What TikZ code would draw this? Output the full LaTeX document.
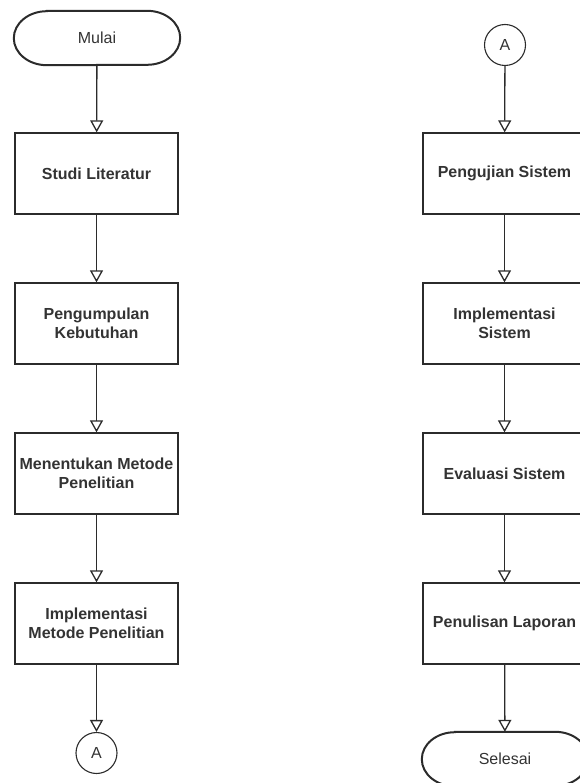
\documentclass[tikz,border=0pt]{standalone}
\usepackage{fontspec}
\setmainfont{Liberation Sans}
\usetikzlibrary{arrows.meta,positioning}
\definecolor{ink}{HTML}{2B2B2B}
\definecolor{txt}{HTML}{333333}
\tikzset{
  x=1pt, y=-1pt,
  stepbox/.style={draw=ink, line width=1.3pt, minimum width=163pt, minimum height=81pt,
    inner sep=1pt, align=center, text=txt, font=\fontsize{16}{18.5}\selectfont\bfseries},
  termtext/.style={draw=none, minimum width=166pt, minimum height=54pt, inner sep=0pt,
    text=txt, font=\fontsize{16}{18.5}\selectfont},
  termline/.style={draw=ink, line width=2pt},
  connector/.style={draw=ink, circle, line width=1.1pt, minimum size=41pt, inner sep=0pt,
    text=txt, font=\fontsize{16}{18.5}\selectfont},
  flow/.style={draw=ink, line width=1.3pt, -{Triangle[open, width=13pt, length=12pt, line width=1.3pt]}},
}
% terminal outline with elliptical ends, drawn around a named node
\newcommand{\terminalshape}[1]{%
  \path[termline] ([xshift=33pt]#1.north west) -- ([xshift=-33pt]#1.north east)
    arc[start angle=90, end angle=-90, x radius=33pt, y radius=27pt]
    -- ([xshift=33pt]#1.south west)
    arc[start angle=270, end angle=90, x radius=33pt, y radius=27pt] -- cycle;}
\begin{document}
\begin{tikzpicture}
\useasboundingbox (0,0) rectangle (579,783);

% left column
\node[termtext] (mulai) at (97,38) {Mulai};
\terminalshape{mulai}
\node[stepbox] (studi) at (96.5,173.5) {Studi Literatur};
\node[stepbox] (kumpul) at (96.5,323.5) {Pengumpulan\\Kebutuhan};
\node[stepbox] (metode) at (96.5,473.5) {Menentukan Metode\\Penelitian};
\node[stepbox] (impmetode) at (96.5,623.5) {Implementasi\\Metode Penelitian};
\node[connector] (aout) at (96.5,753) {A};

% right column
\node[connector] (ain) at (505,45) {A};
\node[stepbox] (uji) at (504.5,173.5) {Pengujian Sistem};
\node[stepbox] (impsis) at (504.5,323.5) {Implementasi\\Sistem};
\node[stepbox] (eval) at (504.5,473.5) {Evaluasi Sistem};
\node[stepbox] (tulis) at (504.5,623.5) {Penulisan Laporan};
\node[termtext] (selesai) at (505,759) {Selesai};
\terminalshape{selesai}

% flow
\draw[flow] (mulai) -- (studi);
\draw[flow] (studi) -- (kumpul);
\draw[flow] (kumpul) -- (metode);
\draw[flow] (metode) -- (impmetode);
\draw[flow] (impmetode) -- (aout);
\draw[flow] (ain) -- (uji);
\draw[flow] (uji) -- (impsis);
\draw[flow] (impsis) -- (eval);
\draw[flow] (eval) -- (tulis);
\draw[flow] (tulis) -- (selesai);
\end{tikzpicture}
\end{document}
